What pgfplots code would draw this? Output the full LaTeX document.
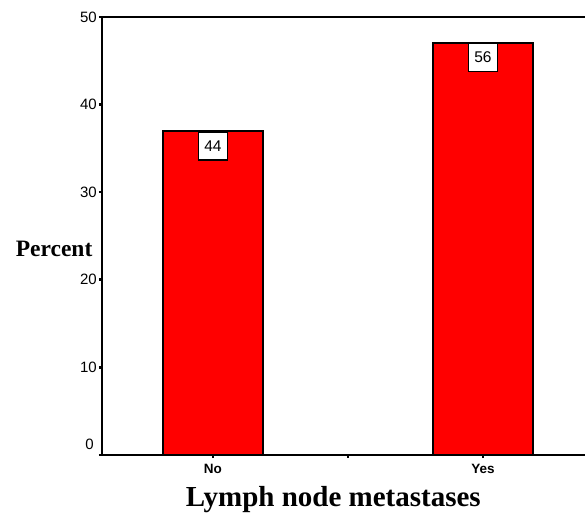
\documentclass[border=0pt]{standalone}
\usepackage{fontspec}
\setmainfont{Liberation Serif}
\newfontfamily\arial{Liberation Sans}
\usepackage{pgfplots}
\pgfplotsset{compat=1.18}
\definecolor{barred}{RGB}{255,0,0}

\begin{document}
\begin{tikzpicture}
\useasboundingbox (-102pt,-63pt) rectangle (483pt,455pt);
\begin{axis}[
  at={(0,0)}, anchor=south west,
  scale only axis,
  width=483pt, height=438pt,
  xmin=-0.411, xmax=1.378,
  ymin=0, ymax=50,
  axis x line=box, axis y line=left,
  x axis line style={-}, y axis line style={-},
  axis line style={line width=1.6pt, black},
  xtick pos=left,
  xtick={0,0.5,1}, xticklabels={No,,Yes},
  ytick={10,20,30,40,50},
  extra y ticks={0},
  extra y tick style={yticklabel style={yshift=11pt, xshift=-3pt}},
  tick align=outside,
  major tick length=3pt,
  tick style={line width=2.6pt, black},
  /pgf/number format/assume math mode=true,
  yticklabel style={font=\arial\fontsize{15}{18}\selectfont, inner sep=0pt, xshift=-2pt},
  xticklabel style={font=\arial\bfseries\fontsize{13.5}{16}\selectfont, inner sep=0pt, anchor=north, yshift=-6pt},
  ylabel={Percent},
  ylabel style={rotate=-90, anchor=east, font=\bfseries\fontsize{23.5}{28}\selectfont,
    at={(axis description cs:-0.021,0.47)}, xshift=4pt},
  xlabel={Lymph node metastases},
  xlabel style={anchor=base, font=\bfseries\fontsize{29}{34}\selectfont,
    at={(axis description cs:0.479,0)}, yshift=-51pt},
  ybar, bar width=100pt,
  point meta=explicit symbolic,
  nodes near coords,
  nodes near coords style={anchor=north, draw=black, fill=white, line width=1.5pt,
    minimum width=29pt, minimum height=28pt, inner sep=0pt,
    font=\arial\fontsize{15.5}{18}\selectfont},
]
% percentages of patients; boxes give patient counts
\addplot[fill=barred, draw=black, line width=1.6pt]
  coordinates {(0,36.97) [44] (1,47.06) [56]};
\end{axis}
\end{tikzpicture}
\end{document}
